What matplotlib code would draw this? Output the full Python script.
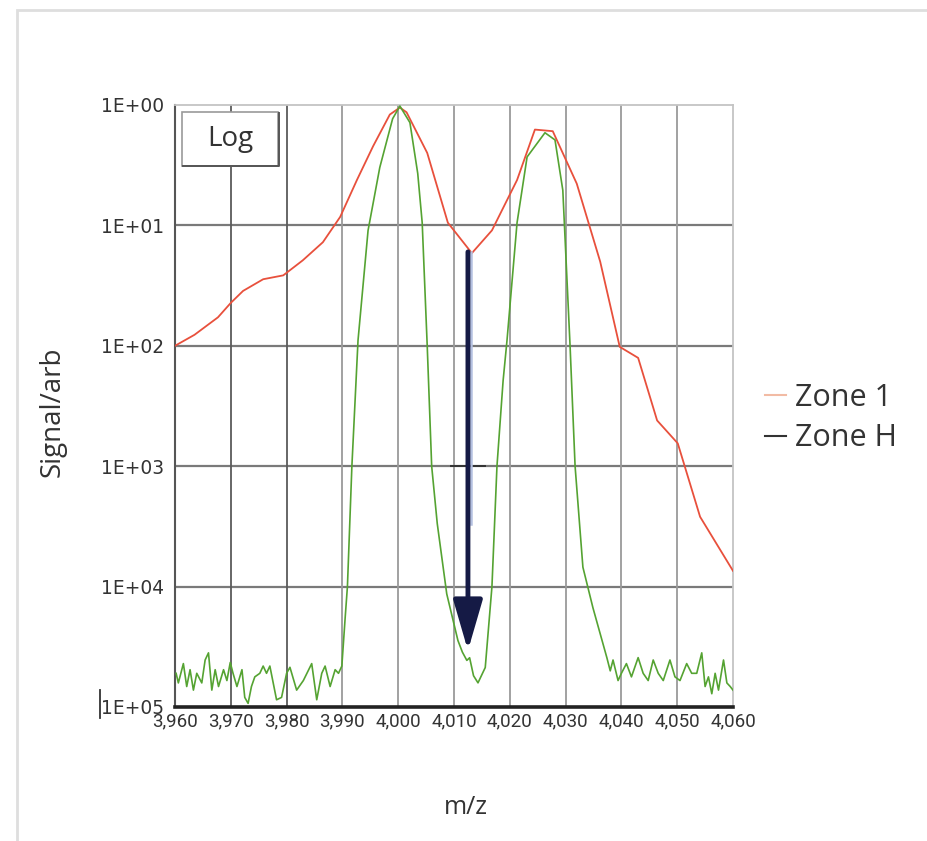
import matplotlib
matplotlib.use("Agg")
import matplotlib.pyplot as plt
from matplotlib.lines import Line2D
from matplotlib.patches import Rectangle

# Zone 1 (red) trace, m/z and signal (axis is inverted: 1 at top, 1E+05 at bottom)
zone1_mz = [3960, 3963.5, 3967.7, 3970, 3972.2, 3975.8, 3979.4, 3982.9, 3986.5,
            3989.6, 3992.6, 3995.5, 3998.5, 4000.3, 4001.5, 4005.2, 4008.9,
            4013.2, 4016.8, 4021.3, 4024.5, 4027.7, 4032, 4036.2, 4039.7,
            4043, 4046.4, 4050.1, 4054.1, 4060]
zone1_signal = [100, 81, 58, 44, 35, 28, 26, 19.5, 13.8,
                8.5, 4.2, 2.2, 1.2, 1.05, 1.15, 2.5, 9.5,
                17, 11, 4.2, 1.6, 1.65, 4.5, 20, 102,
                126, 417, 646, 2630, 7400]

# Zone H (green) trace
zoneh_mz = [3960.2, 3960.6, 3961.5, 3962.1, 3962.7, 3963.3, 3963.9, 3964.8, 3965.4,
            3966.0, 3966.6, 3967.2, 3967.8, 3968.7, 3969.3, 3969.9, 3970.4, 3971.1,
            3972.0, 3972.5, 3973.1, 3973.7, 3974.3, 3975.2, 3975.8, 3976.4, 3977.0,
            3977.6, 3978.2, 3979.1, 3980.0, 3980.6, 3981.8, 3983.0, 3984.5, 3985.4,
            3986.3, 3986.9, 3987.8, 3988.7, 3989.3, 3989.9,
            3990.5, 3990.9, 3991.7, 3992.8, 3994.6, 3996.7, 3999.0, 4000.3,
            4002.1, 4003.5, 4004.3, 4005.2, 4006.0, 4007.0, 4008.7, 4010.7,
            4011.5, 4012.3, 4012.8, 4013.5, 4014.3, 4015.6, 4016.8, 4017.7,
            4018.8, 4019.5, 4021.3, 4023.1, 4026.3, 4028.1, 4029.5, 4030.8,
            4031.7, 4033.1, 4034.9, 4037.4,
            4038.0, 4038.5, 4039.4, 4040.0, 4040.9, 4041.8, 4043.0, 4043.9,
            4044.8, 4045.7, 4046.6, 4047.5, 4048.7, 4049.6, 4050.5, 4051.7,
            4052.6, 4053.5, 4054.4, 4055.0, 4055.6, 4056.2, 4056.8, 4057.4,
            4058.3, 4058.9, 4059.5, 4060.0]
zoneh_signal = [52500, 63100, 43600, 67600, 49000, 72400, 52500, 63100, 40700,
                35500, 72400, 49000, 67600, 49000, 60300, 42700, 52500, 67600,
                49000, 83200, 93300, 67600, 56200, 52500, 45700, 52500, 45700,
                63100, 87100, 83200, 52500, 46800, 72400, 60300, 43600, 87100,
                52500, 45700, 67600, 49000, 52500, 45700,
                18000, 10000, 1000, 90, 11, 3.3, 1.3, 1.02,
                1.4, 3.7, 9.5, 100, 1000, 3000, 11500, 28000,
                35000, 41000, 39000, 55000, 63000, 47000, 10000, 1000,
                195, 90, 9.5, 2.7, 1.7, 1.95, 5.1, 100,
                1000, 6900, 15000, 39000,
                50100, 40700, 60300, 52500, 43600, 56200, 38900, 52500,
                60300, 40700, 52500, 60300, 40700, 56200, 60300, 43600,
                52500, 52500, 35500, 67600, 56200, 77600, 52500, 72400,
                40700, 63100, 67600, 72400]

y_ticks = [1, 10, 100, 1000, 10000, 100000]
y_tick_labels = ['1E+00', '1E+01', '1E+02', '1E+03', '1E+04', '1E+05']
x_ticks = [3960, 3970, 3980, 3990, 4000, 4010, 4020, 4030, 4040, 4050, 4060]
x_tick_labels = ['3,960', '3,970', '3,980', '3,990', '4,000', '4,010',
                 '4,020', '4,030', '4,040', '4,050', '4,060']

# arrow from the Zone 1 dip down to the Zone H dip
arrow_mz = 4012.5
arrow_from = 16.6
arrow_to = 34000

W, H = 927, 841
fig = plt.figure(figsize=(W / 100, H / 100), dpi=100)
fig.patch.set_facecolor('white')
ax = fig.add_axes([175 / W, 1 - 707 / H, 558 / W, 602 / H])

ax.set_yscale('log')
ax.set_xlim(3960, 4060)
ax.set_ylim(1e5, 1)

# grid
for yv in y_ticks[1:-1]:
    ax.axhline(yv, color='#7a7a7a', lw=1.6, zorder=1)
for xv in x_ticks[1:-1]:
    c = '#5a5a5a' if xv in (3970, 3980) else '#9a9a9a'
    ax.axvline(xv, color=c, lw=1.3, zorder=1)

ax.plot(zone1_mz, zone1_signal, color='#e8503c', lw=1.3, zorder=3)
ax.plot(zoneh_mz, zoneh_signal, color='#55a332', lw=1.2, zorder=3)

# small dark wiggle on the 1E+03 line
ax.plot([4009.5, 4015.5], [1000, 1000], color='#333333', lw=1.4, zorder=2)

# arrow + its pale shadow
ax.plot([arrow_mz + 0.55, arrow_mz + 0.55], [arrow_from, 3000], color='#b4c0e0',
        lw=1.8, zorder=3)
ax.annotate('', xy=(arrow_mz, arrow_to), xytext=(arrow_mz, arrow_from),
            arrowprops=dict(arrowstyle='-|>,head_length=3.1,head_width=0.9',
                            mutation_scale=10, lw=3.5, color='#151a45',
                            shrinkA=0, shrinkB=0), zorder=4)

ax.set_yticks(y_ticks)
ax.set_yticklabels(y_tick_labels, fontsize=13.4, color='#333333',
                   family='DejaVu Sans')
ax.set_xticks(x_ticks)
ax.set_xticklabels(x_tick_labels, fontsize=13.5, color='#333333',
                   family='Roboto')
ax.yaxis.set_minor_locator(matplotlib.ticker.NullLocator())
ax.tick_params(axis='both', length=0)
ax.tick_params(axis='y', pad=8)
ax.tick_params(axis='x', pad=4)

for side in ('top', 'right'):
    ax.spines[side].set_color('#c4c4c4')
    ax.spines[side].set_linewidth(1.3)
ax.spines['left'].set_color('#555555')
ax.spines['left'].set_linewidth(1.5)
ax.spines['bottom'].set_color('#222222')
ax.spines['bottom'].set_linewidth(2.6)

ax.set_ylabel('Signal/arb', fontsize=20, family='Open Sans', color='#333333')
ax.yaxis.set_label_coords(-0.1935, 0.49)
ax.set_xlabel('m/z', fontsize=18, family='Open Sans', color='#333333')
ax.xaxis.set_label_coords(0.5215, -0.146)

# "Log" box
box = Rectangle((0.0125, 0.899), 0.1725, 0.089, transform=ax.transAxes,
                facecolor='white', edgecolor='#9a9a9a', lw=1.2, zorder=5)
ax.add_patch(box)
ax.plot([0.014, 0.186, 0.186], [0.898, 0.898, 0.987], transform=ax.transAxes,
        color='#555555', lw=1.4, zorder=5)
ax.text(0.0988, 0.9435, 'Log', transform=ax.transAxes, ha='center', va='center',
        fontsize=20, family='Open Sans', color='#333333', zorder=6)

# legend
handles = [Line2D([], [], color='#f2bba4', lw=1.5, label='Zone 1'),
           Line2D([], [], color='#333333', lw=1.5, label='Zone H')]
ax.legend(handles=handles, loc='center left', bbox_to_anchor=(1.057, 0.48),
          frameon=False, prop={'family': 'Open Sans', 'size': 22},
          handlelength=0.7, handletextpad=0.3, labelspacing=0.35,
          borderpad=0, borderaxespad=0, labelcolor='#333333')

# outer light frame and the stray mark next to 1E+05
fig.add_artist(Rectangle((17 / W, -0.1), 1.2, 1 - 10 / H + 0.1,
                         transform=fig.transFigure, fill=False,
                         edgecolor='#dedede', lw=2))
fig.add_artist(Line2D([100 / W, 100 / W], [1 - 690 / H, 1 - 718 / H],
                      transform=fig.transFigure, color='#333333', lw=1.3))

fig.savefig('out.png', dpi=100, facecolor='white')
